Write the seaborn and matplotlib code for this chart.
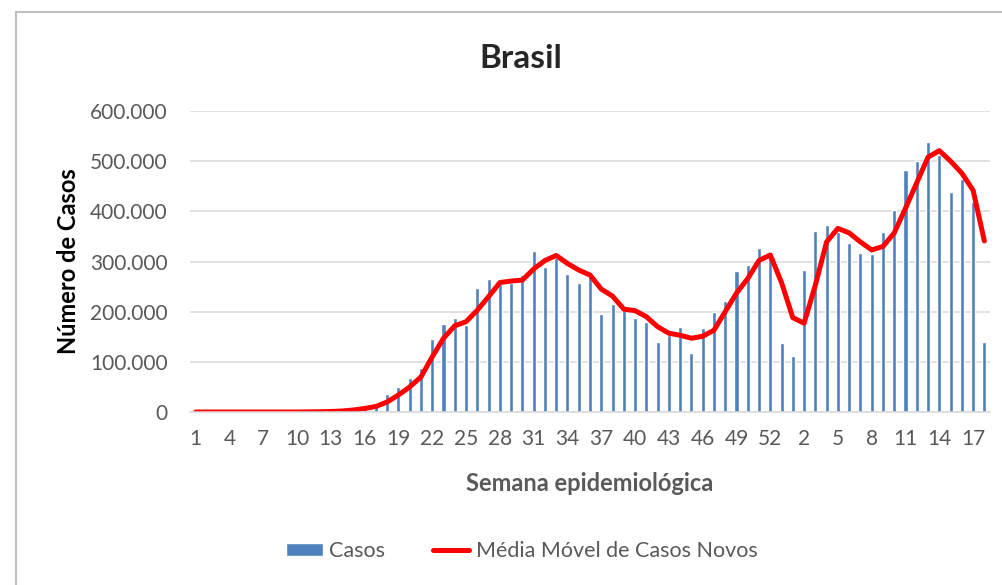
import pandas as pd
import seaborn as sns
import matplotlib.pyplot as plt
from matplotlib.lines import Line2D
from matplotlib.ticker import FuncFormatter

# semanas epidemiológicas: 2020 (1-53) e 2021 (1-18)
semanas = list(range(1, 54)) + list(range(1, 19))

casos = [0, 0, 0, 0, 0, 0, 0, 0, 0, 100,
         300, 1500, 3000, 5000, 7000, 9000, 15000, 36000, 49000, 67000,
         87000, 145000, 175000, 187000, 173000, 248000, 266000, 256000, 258000, 274000,
         321000, 290000, 306000, 275000, 258000, 278000, 195000, 215000, 203000, 188000,
         180000, 139000, 153000, 169000, 117000, 167000, 199000, 221000, 281000, 293000,
         327000, 314000, 137000, 112000, 284000, 361000, 372000, 359000, 336000, 316000,
         315000, 358000, 402000, 482000, 501000, 538000, 512000, 438000, 464000, 419000,
         139000]

media_movel = [0, 0, 0, 0, 0, 0, 0, 0, 0, 0,
               200, 500, 1000, 2000, 4000, 7000, 11000, 20000, 34000, 50000,
               70000, 110000, 147000, 172000, 180000, 203000, 230000, 258000, 261000, 263000,
               285000, 302000, 312000, 296000, 283000, 273000, 245000, 231000, 205000, 202000,
               190000, 170000, 157000, 153000, 147000, 151000, 163000, 200000, 237000, 266000,
               302000, 313000, 258000, 188000, 177000, 253000, 339000, 366000, 357000, 339000,
               323000, 330000, 357000, 406000, 457000, 508000, 521000, 500000, 476000, 442000,
               341000]

y_ticks = [0, 100000, 200000, 300000, 400000, 500000, 600000]

df = pd.DataFrame({'idx': range(len(semanas)), 'semana': semanas,
                   'casos': casos, 'media': media_movel})

sns.set_theme(style='white')
plt.rcParams['font.family'] = ['Lato', 'DejaVu Sans']

fig = plt.figure(figsize=(10.02, 5.85), dpi=100)
ax = fig.add_axes([190 / 1002, 1 - 412 / 585, 800 / 1002, 301 / 585])

sns.barplot(data=df, x='idx', y='casos', color='#4f81bd', width=0.36,
            saturation=1, label='Casos', ax=ax)
sns.lineplot(data=df, x='idx', y='media', color='#ff0000', linewidth=3.6,
             label='Média Móvel de Casos Novos', ax=ax,
             solid_joinstyle='round', solid_capstyle='round')

ax.set_xlim(-0.5, len(semanas) - 0.5)
ax.set_ylim(0, 600000)
ax.set_yticks(y_ticks)
ax.yaxis.set_major_formatter(FuncFormatter(lambda v, _: f'{int(v):,}'.replace(',', '.')))
pos = list(range(0, len(semanas), 3))
ax.set_xticks(pos)
ax.set_xticklabels([str(semanas[i]) for i in pos])

ax.grid(axis='y', color='#d9d9d9', linewidth=1.1)
ax.set_axisbelow(True)
for s in ['top', 'right', 'left']:
    ax.spines[s].set_visible(False)
ax.spines['bottom'].set_color('#d9d9d9')
ax.spines['bottom'].set_linewidth(1.1)
ax.tick_params(axis='both', length=0, labelsize=15, labelcolor='#595959')
ax.tick_params(axis='x', pad=12)
ax.tick_params(axis='y', pad=16)

ax.set_xlabel('Semana epidemiológica', fontsize=17, fontweight='bold',
              color='#595959', va='center')
ax.xaxis.set_label_coords(0.5, -0.236)
ax.set_ylabel('Número de Casos', fontsize=17, fontweight='bold',
              color='black', va='center')
ax.yaxis.set_label_coords(-0.1525, 0.5)

fig.text(521 / 1002, 1 - 58 / 585, 'Brasil', fontsize=24, fontweight='bold',
         ha='center', va='center')

handles, labels = ax.get_legend_handles_labels()
ax.get_legend().remove()
ordem = [labels.index('Casos'), labels.index('Média Móvel de Casos Novos')]
fig.legend([handles[i] for i in ordem], [labels[i] for i in ordem],
           loc='center', bbox_to_anchor=(522 / 1002, 1 - 551 / 585),
           ncol=2, frameon=False, fontsize=15.5, labelcolor='#595959',
           handlelength=1.7, handleheight=0.55, handletextpad=0.3, columnspacing=2.2)

# borda da área do gráfico
fig.add_artist(Line2D([16 / 1002, 1], [1 - 12 / 585] * 2, color='#bfbfbf',
                      linewidth=1.5, transform=fig.transFigure))
fig.add_artist(Line2D([16 / 1002] * 2, [0, 1 - 12 / 585], color='#bfbfbf',
                      linewidth=1.5, transform=fig.transFigure))

fig.savefig('out.png', dpi=100, facecolor='white')
